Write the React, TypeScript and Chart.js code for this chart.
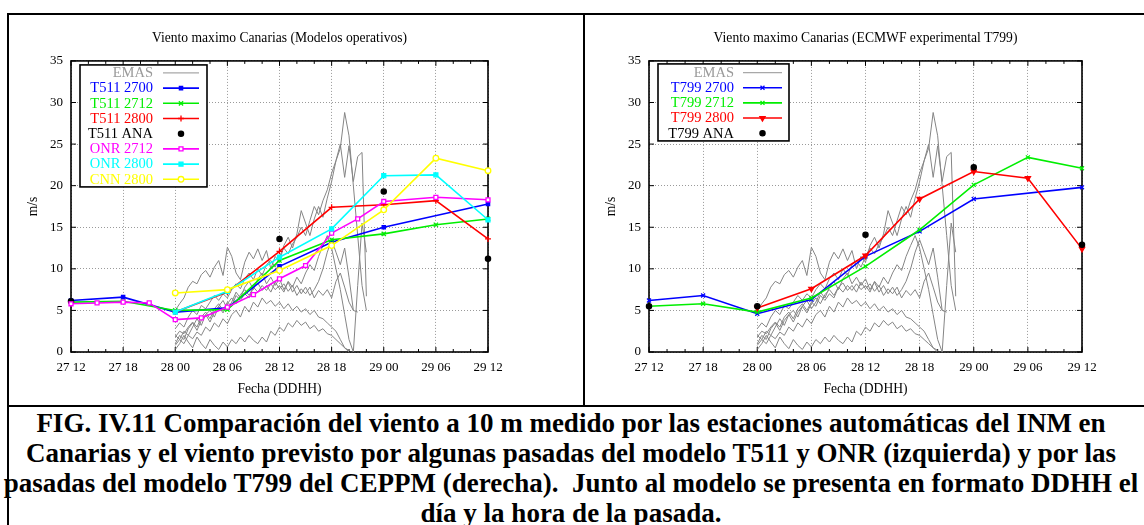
import React, { useEffect, useRef } from 'react';
import { Chart, registerables } from 'chart.js';
import { drawPoint } from 'chart.js/helpers';

Chart.register(...registerables);

const SERIF = '"Liberation Serif", "Times New Roman", serif';

// ---------- axes ----------
const X_LABELS = ['27 12', '27 18', '28 00', '28 06', '28 12', '28 18', '29 00', '29 06', '29 12'];
const X_MIN = 0;
const X_MAX = 48;
const X_STEP = 6;
const X_MINOR = 2;
const Y_MIN = 0;
const Y_MAX = 35;
const Y_STEP = 5;

// ---------- EMAS observations (hours since 27 12) ----------
const EMAS_T = [12, 12.5, 13, 13.5, 14, 14.5, 15, 15.5, 16, 16.5, 17, 17.5, 18, 18.5, 19, 19.5, 20, 20.5, 21, 21.5, 22, 22.5, 23, 23.5, 24, 24.5, 25, 25.5, 26, 26.5, 27, 27.5, 28, 28.5, 29, 29.5, 30, 30.5, 31, 31.5, 32, 32.5, 33, 33.5, 34];
const EMAS_1 = [5.0, 5.8, 6.5, 7.8, 8.5, 8.2, 9.3, 9.8, 9.0, 10.2, 11.0, 9.2, 12.6, 11.5, 9.5, 8.7, 10.8, 12.0, 11.2, 12.4, 11.0, 12.2, 10.0, 11.5, 10.8, 12.8, 13.8, 12.5, 14.2, 17.0, 15.5, 14.0, 16.0, 17.5, 16.2, 18.5, 20.5, 23.0, 24.5, 28.8, 26.0, 20.0, 14.0, 8.0, 5.0];
const EMAS_2 = [2.8, 3.5, 3.0, 4.2, 5.0, 4.5, 5.6, 5.2, 6.0, 6.8, 6.2, 7.0, 6.5, 7.5, 8.2, 7.6, 8.8, 9.5, 8.7, 10.0, 9.2, 10.5, 11.0, 10.2, 11.5, 12.5, 11.8, 13.0, 13.8, 15.0, 14.0, 15.8, 17.5, 16.5, 18.2, 19.5, 21.5, 23.0, 25.0, 21.0, 24.8, 20.5, 23.5, 24.0, 6.7];
const EMAS_3 = [1.8, 2.5, 2.2, 3.0, 3.6, 3.0, 4.2, 4.8, 4.0, 5.2, 5.8, 5.0, 6.0, 5.5, 6.8, 6.2, 7.0, 6.5, 7.8, 7.2, 8.0, 7.4, 8.2, 7.5, 8.0, 7.2, 8.5, 7.8, 9.0, 8.2, 9.5, 10.5, 9.8, 11.5, 12.8, 14.0, 12.5, 10.0, 7.5, 4.5, 1.5, 0.0, 8.0, 15.5, 12.0];
const EMAS_4 = [1.0, 2.0, 1.5, 2.8, 3.5, 2.6, 3.8, 4.5, 3.6, 4.8, 5.5, 4.7, 5.8, 6.5, 5.8, 6.9, 7.5, 6.8, 7.8, 8.3, 7.4, 8.0, 7.2, 8.4, 7.6, 8.2, 7.3, 8.0, 6.8, 7.6, 7.0, 7.8, 6.5, 7.4, 6.8, 7.5, 6.5, 8.5, 9.5, 7.8, 6.0, 5.0, 4.8, null, null];
const EMAS_5 = [0.8, 1.5, 1.0, 2.0, 1.6, 2.4, 2.0, 3.0, 2.5, 3.5, 3.0, 4.0, 3.4, 4.5, 5.0, 4.2, 5.5, 4.8, 6.0, 5.4, 6.5, 5.8, 6.2, 5.5, 6.0, 5.2, 5.8, 5.0, 5.5, 4.8, 5.2, 4.5, 5.0, 4.2, 4.0, 3.5, 3.0, 2.5, 1.5, 0.5, 0.0, null, null, null, null];
const EMAS_6 = [0.3, 1.0, 2.0, 1.2, 0.5, 1.8, 1.0, 0.4, 1.5, 0.8, 0.3, 1.2, 0.6, 1.5, 1.0, 1.8, 1.2, 2.0, 1.4, 1.0, 1.8, 1.2, 2.5, 2.0, 3.0, 2.5, 3.5, 3.0, 3.8, 3.2, 3.6, 2.8, 3.2, 2.5, 2.8, 2.2, 2.0, 1.5, 1.0, 0.5, 0.2, null, null, null, null];
const EMAS_7 = [2.0, 1.5, 2.5, 2.0, 3.0, 4.0, 3.2, 4.5, 5.0, 4.2, 5.5, 6.2, 5.2, 6.0, 7.2, 6.5, 7.8, 8.5, 7.5, 8.8, 9.5, 8.2, 9.0, 8.0, 8.8, 7.5, 8.4, 7.2, 8.0, 7.0, 7.8, 6.8, 7.5, 8.5, 10.0, 12.0, 13.5, 12.0, 10.5, 12.5, 9.0, 5.0, null, null, null];
const EMAS_TRACES = [EMAS_1, EMAS_2, EMAS_3, EMAS_4, EMAS_5, EMAS_6, EMAS_7];

// ---------- left chart: operational models ----------
const T511_2700_H = [0, 6, 12, 18, 24, 30, 36, 48];
const T511_2700_V = [6.2, 6.6, 4.8, 5.3, 10.3, 13.2, 15.0, 17.8];
const T511_2712_H = [0, 6, 12, 18, 24, 30, 36, 42, 48];
const T511_2712_V = [6.0, 6.1, 5.0, 5.1, 11.0, 13.5, 14.2, 15.3, 16.0];
const T511_2800_H = [12, 18, 24, 30, 36, 42, 48];
const T511_2800_V = [4.8, 7.2, 12.1, 17.4, 17.7, 18.2, 13.6];
const T511_ANA_H = [0, 24, 36, 48];
const T511_ANA_V = [6.1, 13.6, 19.3, 11.2];
const ONR_2712_H = [0, 3, 6, 9, 12, 15, 18, 21, 24, 27, 30, 33, 36, 42, 48];
const ONR_2712_V = [5.8, 5.9, 6.0, 5.9, 3.9, 4.1, 5.4, 6.9, 8.8, 10.4, 14.3, 16.0, 18.1, 18.6, 18.3];
const ONR_2800_H = [12, 18, 24, 30, 36, 42, 48];
const ONR_2800_V = [4.8, 7.3, 11.4, 14.8, 21.2, 21.3, 15.9];
const CNN_2800_H = [12, 18, 24, 30, 36, 42, 48];
const CNN_2800_V = [7.1, 7.5, 9.8, 12.8, 17.1, 23.3, 21.8];

// ---------- right chart: ECMWF T799 ----------
const T799_2700_H = [0, 6, 12, 18, 24, 30, 36, 48];
const T799_2700_V = [6.2, 6.8, 4.6, 6.3, 11.5, 14.5, 18.4, 19.8];
const T799_2712_H = [0, 6, 12, 18, 24, 30, 36, 42, 48];
const T799_2712_V = [5.5, 5.8, 4.8, 6.5, 10.3, 14.7, 20.1, 23.4, 22.1];
const T799_2800_H = [12, 18, 24, 30, 36, 42, 48];
const T799_2800_V = [5.3, 7.6, 11.6, 18.4, 21.7, 20.9, 12.4];
const T799_ANA_H = [0, 12, 24, 36, 48];
const T799_ANA_V = [5.5, 5.5, 14.1, 22.2, 12.9];

const EMAS_COLOR = '#858585';
const GRID_COLOR = '#9a9a9a';

type Series = {
  label: string;
  color: string;
  hours: number[];
  values: number[];
  pointStyle: string;
  radius: number;
  open?: boolean;
  line?: boolean;
  rotation?: number;
};

const LEFT_SERIES: Series[] = [
  { label: 'T511 2700', color: '#0000ff', hours: T511_2700_H, values: T511_2700_V, pointStyle: 'rect', radius: 2.3 },
  { label: 'T511 2712', color: '#00ee00', hours: T511_2712_H, values: T511_2712_V, pointStyle: 'crossRot', radius: 3 },
  { label: 'T511 2800', color: '#ff0000', hours: T511_2800_H, values: T511_2800_V, pointStyle: 'cross', radius: 3 },
  { label: 'T511 ANA', color: '#000000', hours: T511_ANA_H, values: T511_ANA_V, pointStyle: 'circle', radius: 2.6, line: false },
  { label: 'ONR 2712', color: '#ff00ff', hours: ONR_2712_H, values: ONR_2712_V, pointStyle: 'rect', radius: 2.8, open: true },
  { label: 'ONR 2800', color: '#00ffff', hours: ONR_2800_H, values: ONR_2800_V, pointStyle: 'rect', radius: 2.8 },
  { label: 'CNN 2800', color: '#ffff00', hours: CNN_2800_H, values: CNN_2800_V, pointStyle: 'circle', radius: 2.8, open: true },
];

const RIGHT_SERIES: Series[] = [
  { label: 'T799 2700', color: '#0000ff', hours: T799_2700_H, values: T799_2700_V, pointStyle: 'crossRot', radius: 2.8 },
  { label: 'T799 2712', color: '#00ee00', hours: T799_2712_H, values: T799_2712_V, pointStyle: 'crossRot', radius: 2.8 },
  { label: 'T799 2800', color: '#ff0000', hours: T799_2800_H, values: T799_2800_V, pointStyle: 'triangle', radius: 3, rotation: 180 },
  { label: 'T799 ANA', color: '#000000', hours: T799_ANA_H, values: T799_ANA_V, pointStyle: 'circle', radius: 2.6, line: false },
];

const pts = (h: number[], v: (number | null)[]) => h.map((x, i) => ({ x, y: v[i] }));

function modelDataset(s: Series, order: number) {
  const fillC = s.open ? '#ffffff' : s.color;
  return {
    label: s.label,
    data: pts(s.hours, s.values),
    borderColor: s.color,
    backgroundColor: fillC,
    borderWidth: 1.6,
    showLine: s.line !== false,
    pointStyle: s.pointStyle,
    pointRadius: s.radius,
    pointRotation: s.rotation || 0,
    pointBorderWidth: 1.3,
    pointBorderColor: s.color,
    pointBackgroundColor: fillC,
    pointHoverRadius: s.radius,
    clip: false,
    order,
    tension: 0,
    fill: false,
  };
}

function emasDatasets() {
  return EMAS_TRACES.map((v) => ({
    label: 'EMAS',
    data: pts(EMAS_T, v),
    borderColor: EMAS_COLOR,
    backgroundColor: EMAS_COLOR,
    borderWidth: 1,
    pointRadius: 0,
    pointHoverRadius: 0,
    order: 100,
    tension: 0,
    fill: false,
    spanGaps: false,
  }));
}

const framePlugin = {
  id: 'gpFrame',
  beforeDatasetsDraw(chart: any) {
    const { ctx, chartArea: a, scales } = chart;
    const x = scales.x;
    const y = scales.y;
    ctx.save();
    ctx.strokeStyle = '#000';
    ctx.lineWidth = 1;
    ctx.beginPath();
    for (const t of x.ticks) {
      const px = x.getPixelForValue(t.value);
      ctx.moveTo(px, a.bottom);
      ctx.lineTo(px, a.bottom - 5);
      ctx.moveTo(px, a.top);
      ctx.lineTo(px, a.top + 5);
    }
    for (let h = X_MIN; h <= X_MAX; h += X_MINOR) {
      if (h % X_STEP === 0) continue;
      const px = x.getPixelForValue(h);
      ctx.moveTo(px, a.bottom);
      ctx.lineTo(px, a.bottom - 3);
      ctx.moveTo(px, a.top);
      ctx.lineTo(px, a.top + 3);
    }
    for (const t of y.ticks) {
      const py = y.getPixelForValue(t.value);
      ctx.moveTo(a.left, py);
      ctx.lineTo(a.left + 5, py);
      ctx.moveTo(a.right, py);
      ctx.lineTo(a.right - 5, py);
    }
    ctx.stroke();
    ctx.lineWidth = 1.6;
    ctx.strokeRect(a.left, a.top, a.right - a.left, a.bottom - a.top);
    ctx.restore();
  },
};

type LegendCfg = {
  dx: number; dy: number; w: number; h: number;
  row0: number; rowStep: number; textRight: number; s1: number; s2: number;
};

function makeLegendPlugin(series: Series[], cfg: LegendCfg) {
  return {
    id: 'gpLegend',
    afterDatasetsDraw(chart: any) {
      const { ctx, chartArea: a } = chart;
      const bx = a.left + cfg.dx;
      const by = a.top + cfg.dy;
      ctx.save();
      ctx.fillStyle = '#fff';
      ctx.fillRect(bx, by, cfg.w, cfg.h);
      ctx.strokeStyle = '#000';
      ctx.lineWidth = 1.6;
      ctx.strokeRect(bx, by, cfg.w, cfg.h);
      ctx.font = `14.5px ${SERIF}`;
      ctx.textAlign = 'right';
      ctx.textBaseline = 'middle';
      const rows = [
        { label: 'EMAS', color: EMAS_COLOR, line: true, s: null as Series | null },
        ...series.map((s) => ({ label: s.label, color: s.color, line: s.line !== false, s })),
      ];
      rows.forEach((r, i) => {
        const ry = by + cfg.row0 + i * cfg.rowStep;
        ctx.fillStyle = r.s ? r.color : '#9a9a9a';
        ctx.fillText(r.label, bx + cfg.textRight, ry + 0.5);
        const x1 = bx + cfg.s1;
        const x2 = bx + cfg.s2;
        if (r.line) {
          ctx.beginPath();
          ctx.strokeStyle = r.s ? r.color : '#a8a8a8';
          ctx.lineWidth = r.s ? 1.6 : 1.2;
          ctx.moveTo(x1, ry);
          ctx.lineTo(x2, ry);
          ctx.stroke();
        }
        if (r.s) {
          const s = r.s;
          ctx.strokeStyle = s.color;
          ctx.fillStyle = s.open ? '#fff' : s.color;
          ctx.lineWidth = 1.3;
          drawPoint(ctx, { pointStyle: s.pointStyle as any, radius: s.radius, rotation: s.rotation || 0, borderWidth: 1.3 }, (x1 + x2) / 2, ry);
        }
      });
      ctx.restore();
    },
  };
}

type ChartParams = {
  title: string;
  series: Series[];
  yAxisWidth: number;
  padRight: number;
  yTitlePad: number;
  legend: LegendCfg;
};

function buildConfig(p: ChartParams) {
  const n = p.series.length;
  const datasets: any[] = p.series.map((s, i) => modelDataset(s, n - i));
  datasets.push(...emasDatasets());
  const font = (size: number) => ({ family: SERIF, size, lineHeight: 1.2 });
  return {
    type: 'line' as const,
    data: { datasets },
    options: {
      responsive: false,
      animation: false as const,
      events: [],
      layout: { padding: { left: 0, right: p.padRight, top: 0, bottom: 0 } },
      plugins: {
        legend: { display: false },
        tooltip: { enabled: false },
        title: {
          display: true,
          text: p.title,
          fullSize: false,
          color: '#000',
          font: { family: SERIF, size: 13.6, lineHeight: 1.2, weight: 'normal' as const },
          padding: { top: 15, bottom: 14.6 },
        },
      },
      scales: {
        x: {
          type: 'linear' as const,
          min: X_MIN,
          max: X_MAX,
          afterFit: (s: any) => { s.height = 53; },
          ticks: {
            stepSize: X_STEP,
            autoSkip: false,
            maxRotation: 0,
            padding: 8,
            color: '#000',
            font: font(13),
            callback: (v: any) => X_LABELS[Math.round(Number(v) / X_STEP)] ?? '',
          },
          grid: { color: GRID_COLOR, lineWidth: 1, drawTicks: false },
          border: { display: false, dash: [1, 2] },
          title: {
            display: true,
            text: 'Fecha (DDHH)',
            color: '#000',
            font: font(13.6),
            padding: { top: 0, bottom: 7 },
          },
        },
        y: {
          type: 'linear' as const,
          min: Y_MIN,
          max: Y_MAX,
          afterFit: (s: any) => { s.width = p.yAxisWidth; },
          ticks: { stepSize: Y_STEP, padding: 8, color: '#000', font: font(13) },
          grid: { color: GRID_COLOR, lineWidth: 1, drawTicks: false },
          border: { display: false, dash: [1, 2] },
          title: {
            display: true,
            text: 'm/s',
            color: '#000',
            font: font(13.6),
            padding: { top: p.yTitlePad, bottom: 0 },
          },
        },
      },
    },
    plugins: [framePlugin, makeLegendPlugin(p.series, p.legend)],
  };
}

function ChartCanvas({ params, left, width }: { params: ChartParams; left: number; width: number }) {
  const ref = useRef<HTMLCanvasElement | null>(null);
  useEffect(() => {
    if (!ref.current) return;
    const chart = new Chart(ref.current, buildConfig(params) as any);
    return () => chart.destroy();
  }, []);
  return (
    <canvas
      ref={ref}
      width={width}
      height={390}
      style={{ position: 'absolute', left, top: 15, width, height: 390, display: 'block' }}
    />
  );
}

const LEFT_PARAMS: ChartParams = {
  title: 'Viento maximo Canarias (Modelos operativos)',
  series: LEFT_SERIES,
  yAxisWidth: 62,
  padRight: 95,
  yTitlePad: 16,
  legend: { dx: 9, dy: 4, w: 127, h: 122, row0: 8, rowStep: 15.2, textRight: 73, s1: 83, s2: 119 },
};

const RIGHT_PARAMS: ChartParams = {
  title: 'Viento maximo Canarias (ECMWF experimental T799)',
  series: RIGHT_SERIES,
  yAxisWidth: 64,
  padRight: 62,
  yTitlePad: 18,
  legend: { dx: 9, dy: 3, w: 131, h: 77, row0: 8.7, rowStep: 15.15, textRight: 76, s1: 85, s2: 124 },
};

const CAPTION_LINES = [
  'FIG. IV.11 Comparación del viento a 10 m medido por las estaciones automáticas del INM en',
  'Canarias y el viento previsto por algunas pasadas del modelo T511 y ONR (izquierda) y por las',
  'pasadas del modelo T799 del CEPPM (derecha).  Junto al modelo se presenta en formato DDHH el',
  'día y la hora de la pasada.',
];

export default function App() {
  const line = (l: number, t: number, w: number, h: number) => (
    <div style={{ position: 'absolute', left: l, top: t, width: w, height: h, background: '#000' }} />
  );
  return (
    <div style={{ position: 'absolute', left: 0, top: 0, width: 1144, height: 525, overflow: 'hidden', background: '#fff' }}>
      {line(7, 13, 1137, 2)}
      {line(7, 13, 2, 512)}
      {line(583, 13, 2, 394)}
      {line(7, 405, 1137, 2)}
      <ChartCanvas params={LEFT_PARAMS} left={9} width={574} />
      <ChartCanvas params={RIGHT_PARAMS} left={585} width={559} />
      {CAPTION_LINES.map((t, i) => (
        <div
          key={i}
          style={{
            position: 'absolute',
            left: 0,
            width: 1142,
            top: 408 + i * 30,
            height: 30,
            lineHeight: '30px',
            textAlign: 'center',
            whiteSpace: 'pre',
            fontFamily: SERIF,
            fontWeight: 'bold',
            fontSize: 27,
            color: '#000',
          }}
        >
          {t}
        </div>
      ))}
    </div>
  );
}
